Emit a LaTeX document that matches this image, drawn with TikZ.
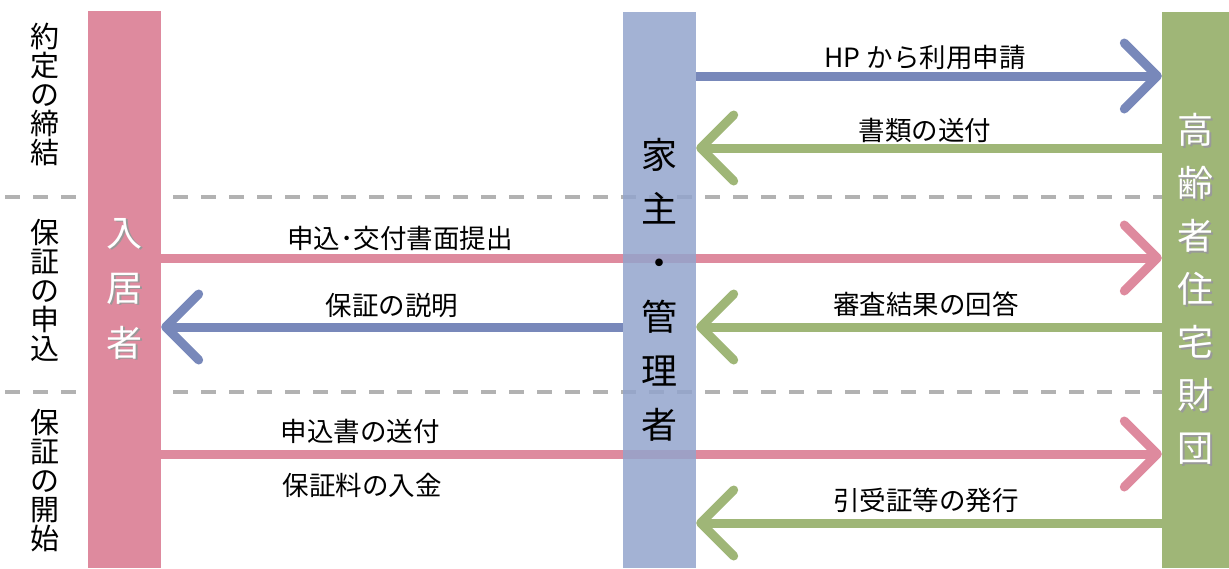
\documentclass[tikz,border=0pt]{standalone}
\usepackage{fontspec}
\setmainfont{Noto Sans CJK JP}
\usepackage{xcolor}
\usepackage{tikz}
\usetikzlibrary{arrows.meta, positioning, calc}

\definecolor{pinkc}{RGB}{222,138,158}
\definecolor{bluec}{RGB}{120,136,186}
\definecolor{bluebar}{RGB}{147,164,204}
\definecolor{greenc}{RGB}{159,182,119}
\definecolor{dashc}{RGB}{178,178,178}

\pgfdeclarelayer{background}
\pgfsetlayers{background,main}

% white letter with a soft shadow
\newcommand{\wsh}[1]{\makebox[0pt][l]{\hspace{1.6pt}\raisebox{-1.6pt}{\textcolor{black!40}{#1}}}#1}

\begin{document}
\begin{tikzpicture}[x=1pt, y=-1pt]
\tikzstyle{bar} = [rectangle, inner sep=0pt, minimum width=73pt, minimum height=557pt, align=center]
\tikzstyle{phase} = [align=center, inner sep=0pt, font=\fontsize{29}{29}\selectfont]
\tikzstyle{msg} = [inner sep=0pt, font=\fontsize{26.5}{30}\selectfont]
\tikzstyle{sep} = [dashc, line width=4.5pt, dash pattern=on 15pt off 13pt]
\tikzstyle{arrow} = [line width=9pt, -{Straight Barb[length=33pt,width=66pt,round]}]

\useasboundingbox (0,0) rectangle (1229,568);

% Bars
\node[bar, fill=pinkc, text=white, font=\fontsize{36}{55}\selectfont] (resident) at (124.5,289.5) {\wsh{入}\\\wsh{居}\\\wsh{者}};
\node[bar, fill=bluebar, fill opacity=0.85, text opacity=1, minimum height=556pt, font=\fontsize{36}{54}\selectfont] (owner) at (659.5,290) {家\\主\\・\\管\\理\\者};
\node[bar, fill=greenc, minimum width=67pt, minimum height=556pt, text=white, font=\fontsize{36}{53}\selectfont] (fund) at (1195.5,290) {\wsh{高}\\\wsh{齢}\\\wsh{者}\\\wsh{住}\\\wsh{宅}\\\wsh{財}\\\wsh{団}};

% Phases
\node[phase] (contract) at (45,94) {約\\定\\の\\締\\結};
\node[phase] (apply) at (45,290) {保\\証\\の\\申\\込};
\node[phase] (start) at (45,481) {保\\証\\の\\開\\始};

% Messages
\node[msg] (hp) at (925,57) {HP から利用申請};
\node[msg] (docs) at (925,130) {書類の送付};
\node[msg] (submit) at (400,238) {申込･交付書面提出};
\node[msg] (explain) at (392,305) {保証の説明};
\node[msg] (result) at (926,304) {審査結果の回答};
\node[msg] (form) at (360,431) {申込書の送付};
\node[msg] (fee) at (362,485) {保証料の入金};
\node[msg] (issue) at (926,500) {引受証等の発行};

% Connections
\begin{pgfonlayer}{background}
\draw[sep] (5,197) -- (fund.west |- 0,197);
\draw[sep] (5,392) -- (fund.west |- 0,392);
\draw[arrow, bluec] (owner.east |- 0,76) -- (fund.west |- 0,76);
\draw[arrow, greenc] (fund.west |- 0,148) -- (owner.east |- 0,148);
\draw[arrow, pinkc] (resident.east |- 0,258) -- (fund.west |- 0,258);
\draw[arrow, bluec] (owner.west |- 0,327) -- (resident.east |- 0,327);
\draw[arrow, greenc] (fund.west |- 0,327) -- (owner.east |- 0,327);
\draw[arrow, pinkc] (resident.east |- 0,454) -- (fund.west |- 0,454);
\draw[arrow, greenc] (fund.west |- 0,523) -- (owner.east |- 0,523);
\end{pgfonlayer}
\end{tikzpicture}
\end{document}
